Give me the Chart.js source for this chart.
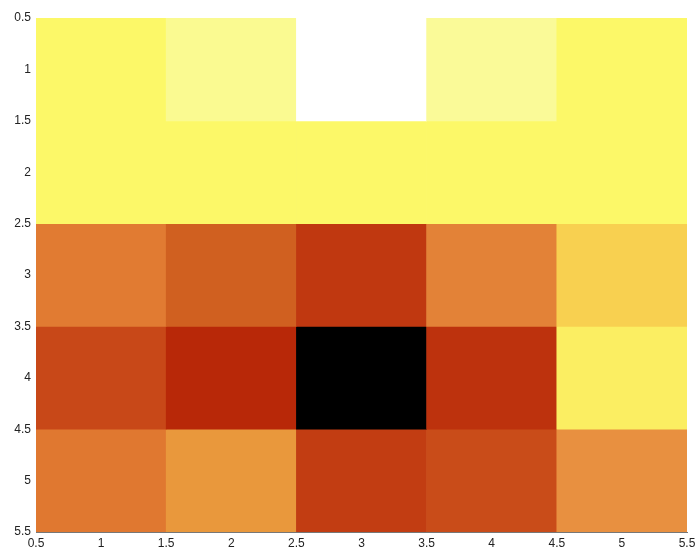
<!DOCTYPE html>
<html>
<head>
<meta charset="utf-8">
<script src="https://cdn.jsdelivr.net/npm/chart.js@4/dist/chart.umd.min.js"></script>
<style>
  body { margin: 0; background: #fff; }
</style>
</head>
<body>
<canvas id="heatChart" width="697" height="551"></canvas>
<script>
// columns and rows of the image (imagesc style)
const columns = [1, 2, 3, 4, 5];
const rows = [1, 2, 3, 4, 5];

// cell values, normalised 0..1, one array per row (top to bottom)
const row1 = [0.86, 0.92, 1.00, 0.93, 0.86];
const row2 = [0.86, 0.86, 0.86, 0.86, 0.86];
const row3 = [0.56, 0.48, 0.35, 0.58, 0.78];
const row4 = [0.42, 0.30, 0.00, 0.33, 0.84];
const row5 = [0.55, 0.66, 0.37, 0.43, 0.62];
const values = [row1, row2, row3, row4, row5];

// axis range and tick step
const axisMin = 0.5;
const axisMax = 5.5;
const tickStep = 0.5;

// colormap close to the scanned "hot" palette
const cmap = [
    [0.00, [0, 0, 0]],
    [0.30, [184, 40, 8]],
    [0.35, [192, 56, 16]],
    [0.42, [200, 72, 24]],
    [0.48, [208, 96, 32]],
    [0.55, [224, 120, 48]],
    [0.62, [232, 144, 64]],
    [0.68, [234, 156, 58]],
    [0.78, [248, 208, 80]],
    [0.86, [252, 248, 104]],
    [0.93, [250, 250, 152]],
    [1.00, [255, 255, 255]]
];

function colorFor(v) {
    for (let i = 1; i < cmap.length; i++) {
        if (v <= cmap[i][0]) {
            const [v0, c0] = cmap[i - 1];
            const [v1, c1] = cmap[i];
            const t = (v - v0) / (v1 - v0);
            const c = c0.map((a, k) => Math.round(a + (c1[k] - a) * t));
            return `rgb(${c[0]}, ${c[1]}, ${c[2]})`;
        }
    }
    return 'rgb(255, 255, 255)';
}

const datasets = rows.map((r, ri) => ({
    label: 'row ' + r,
    data: values[ri].map(() => [r - 0.5, r + 0.5]),
    backgroundColor: values[ri].map(colorFor),
    borderWidth: 0,
    grouped: false,
    barPercentage: 1,
    categoryPercentage: 1,
    xAxisID: 'x'
}));

const tickFont = { family: 'Liberation Sans, Arial, sans-serif', size: 12 };
const plainNumber = value => String(Number(value));

const config = {
    type: 'bar',
    data: {
        labels: columns,
        datasets: datasets
    },
    options: {
        responsive: false,
        animation: false,
        layout: { padding: { top: 18, right: 0, left: 0, bottom: 0 } },
        plugins: {
            legend: { display: false },
            tooltip: { enabled: false }
        },
        scales: {
            x: {
                type: 'category',
                display: false,
                offset: true
            },
            xTicks: {
                type: 'linear',
                position: 'bottom',
                offset: false,
                min: axisMin,
                max: axisMax,
                grid: { display: false, drawTicks: false, offset: false },
                border: { display: true, color: '#777' },
                ticks: { stepSize: tickStep, color: '#222', font: tickFont, padding: 4, maxRotation: 0, callback: plainNumber },
                afterFit: scale => {
                    scale.height = 19;
                    scale.paddingRight = 10;
                    scale.paddingLeft = 0;
                }
            },
            y: {
                type: 'linear',
                reverse: true,
                min: axisMin,
                max: axisMax,
                grid: { display: false, drawTicks: false },
                border: { display: true, color: '#777' },
                ticks: { stepSize: tickStep, color: '#222', font: tickFont, padding: 5, callback: plainNumber },
                afterFit: scale => { scale.width = 36; }
            }
        }
    }
};

new Chart(document.getElementById('heatChart'), config);
</script>
</body>
</html>
